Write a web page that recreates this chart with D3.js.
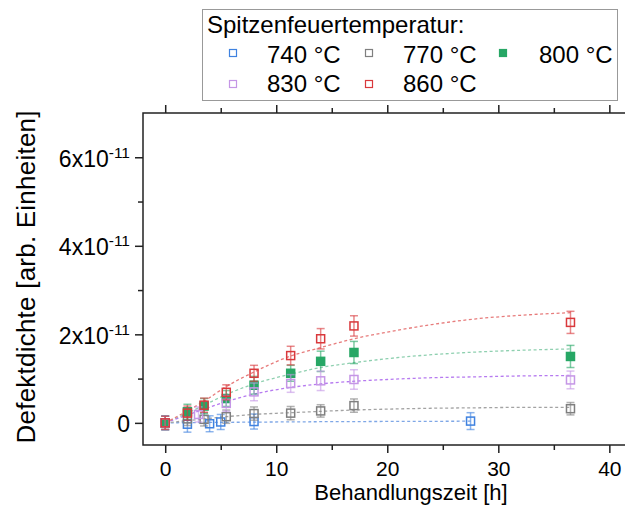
<!DOCTYPE html>
<html>
<head>
<meta charset="utf-8">
<script src="https://cdn.jsdelivr.net/npm/d3@7"></script>
<style>
  html, body { margin: 0; padding: 0; background: #fff; }
  svg { display: block; font-family: "Liberation Sans", Arial, sans-serif; }
</style>
</head>
<body>
<svg id="chart" width="625" height="521"></svg>
<script>
// Peak firing temperatures (legend order)
const temps = ["740 °C", "770 °C", "800 °C", "830 °C", "860 °C"];
const colors = ["#3f82e0", "#7f7f7f", "#27a765", "#c596e6", "#d9393c"];
const fitColors = ["#7fa7e6", "#a3a3a3", "#8fd0b0", "#b67af0", "#e77c7c"];
const filled = [false, false, true, false, false];

// Measured defect density vs. treatment time [h]
const t740 = [0, 2, 4, 5, 8, 27.5];
const v740 = [0, -0.03e-11, -0.02e-11, 0.02e-11, 0.03e-11, 0.04e-11];
const e740 = [0.16e-11, 0.18e-11, 0.18e-11, 0.17e-11, 0.17e-11, 0.19e-11];

const t770 = [0, 2, 3.5, 5.5, 8, 11.3, 14, 17, 36.5];
const v770 = [0, 0.09e-11, 0.08e-11, 0.14e-11, 0.21e-11, 0.22e-11, 0.27e-11, 0.39e-11, 0.32e-11];
const e770 = [0.15e-11, 0.15e-11, 0.15e-11, 0.15e-11, 0.15e-11, 0.15e-11, 0.14e-11, 0.15e-11, 0.14e-11];

const t800 = [0, 2, 3.5, 5.5, 8, 11.3, 14, 17, 36.5];
const v800 = [0, 0.25e-11, 0.38e-11, 0.55e-11, 0.85e-11, 1.12e-11, 1.39e-11, 1.59e-11, 1.50e-11];
const e800 = [0.15e-11, 0.17e-11, 0.17e-11, 0.18e-11, 0.2e-11, 0.18e-11, 0.23e-11, 0.25e-11, 0.25e-11];

const t830 = [0, 3, 5.5, 8, 11.3, 14, 17, 36.5];
const v830 = [0, 0.19e-11, 0.44e-11, 0.70e-11, 0.89e-11, 0.95e-11, 0.98e-11, 0.97e-11];
const e830 = [0.15e-11, 0.17e-11, 0.18e-11, 0.2e-11, 0.2e-11, 0.22e-11, 0.22e-11, 0.2e-11];

const t860 = [0, 2, 3.5, 5.5, 8, 11.3, 14, 17, 36.5];
const v860 = [0, 0.22e-11, 0.40e-11, 0.69e-11, 1.12e-11, 1.52e-11, 1.90e-11, 2.19e-11, 2.27e-11];
const e860 = [0.15e-11, 0.16e-11, 0.16e-11, 0.17e-11, 0.18e-11, 0.21e-11, 0.23e-11, 0.23e-11, 0.25e-11];

// Fitted saturation curves, sampled at these times
const fitT = [0, 2, 3.5, 5.5, 8, 11.3, 14, 17, 20, 24, 28, 32, 36.5];
const fit740T = [0, 2, 3.5, 5.5, 8, 11.3, 14, 17, 20, 24, 27.5];
const fit740 = [0, 0.005e-11, 0.008e-11, 0.012e-11, 0.017e-11, 0.022e-11, 0.026e-11, 0.029e-11, 0.032e-11, 0.035e-11, 0.038e-11];
const fit770 = [0, 0.05e-11, 0.09e-11, 0.14e-11, 0.19e-11, 0.23e-11, 0.26e-11, 0.29e-11, 0.31e-11, 0.33e-11, 0.34e-11, 0.35e-11, 0.35e-11];
const fit800 = [0, 0.22e-11, 0.40e-11, 0.64e-11, 0.88e-11, 1.10e-11, 1.25e-11, 1.36e-11, 1.45e-11, 1.54e-11, 1.60e-11, 1.64e-11, 1.67e-11];
const fit830 = [0, 0.18e-11, 0.31e-11, 0.48e-11, 0.65e-11, 0.80e-11, 0.88e-11, 0.94e-11, 0.98e-11, 1.02e-11, 1.04e-11, 1.06e-11, 1.07e-11];
const fit860 = [0, 0.27e-11, 0.49e-11, 0.82e-11, 1.15e-11, 1.51e-11, 1.70e-11, 1.90e-11, 2.05e-11, 2.22e-11, 2.35e-11, 2.43e-11, 2.49e-11];

// Axis ticks
const xTicks = [0, 10, 20, 30, 40];
const xMinor = [5, 15, 25, 35];
const yTicks = [0, 2e-11, 4e-11, 6e-11];
const yMinor = [1e-11, 3e-11, 5e-11];

const series = [
  { t: t740, v: v740, e: e740, ft: fit740T, fv: fit740 },
  { t: t770, v: v770, e: e770, ft: fitT, fv: fit770 },
  { t: t800, v: v800, e: e800, ft: fitT, fv: fit800 },
  { t: t830, v: v830, e: e830, ft: fitT, fv: fit830 },
  { t: t860, v: v860, e: e860, ft: fitT, fv: fit860 }
];

const svg = d3.select("#chart");
const L = 143, T = 113, R = 626, B = 445;
const x = d3.scaleLinear().domain([-2, 41.5]).range([L, R]);
const y = d3.scaleLinear().domain([-0.5e-11, 7e-11]).range([B, T]);

const axisColor = "#222";
const major = 8, minor = 5;

// Frame
svg.append("rect").attr("x", L).attr("y", T).attr("width", R - L).attr("height", B - T)
  .attr("fill", "none").attr("stroke", axisColor).attr("stroke-width", 1.5);

// Axes (ticks outward, labels on bottom/left)
const xb = svg.append("g").attr("transform", `translate(0,${B})`)
  .call(d3.axisBottom(x).tickValues(xTicks).tickSize(major).tickPadding(8).tickFormat(d3.format("d")));
svg.append("g").attr("transform", `translate(0,${B})`)
  .call(d3.axisBottom(x).tickValues(xMinor).tickSize(minor).tickFormat(""));
svg.append("g").attr("transform", `translate(0,${T})`)
  .call(d3.axisTop(x).tickValues(xTicks).tickSize(major).tickFormat(""));
svg.append("g").attr("transform", `translate(0,${T})`)
  .call(d3.axisTop(x).tickValues(xMinor).tickSize(minor).tickFormat(""));

const yl = svg.append("g").attr("transform", `translate(${L},0)`)
  .call(d3.axisLeft(y).tickValues(yTicks).tickSize(major).tickFormat(""));
svg.append("g").attr("transform", `translate(${L},0)`)
  .call(d3.axisLeft(y).tickValues(yMinor).tickSize(minor).tickFormat(""));

svg.selectAll(".domain").remove();
svg.selectAll(".tick line").attr("stroke", axisColor).attr("stroke-width", 1.5);
xb.selectAll(".tick text").attr("font-size", 21).attr("fill", "#000")
  .attr("font-family", "Liberation Sans, Arial, sans-serif");

// Y tick labels in scientific notation: "2x10^-11"
yl.selectAll(".tick").each(function (d) {
  const g = d3.select(this);
  const txt = g.append("text").attr("x", -13).attr("dy", "0.38em")
    .attr("text-anchor", "end").attr("fill", "#000").attr("font-size", 23)
    .attr("font-family", "Liberation Sans, Arial, sans-serif");
  if (d === 0) {
    txt.text("0");
  } else {
    const m = Math.round(d / 1e-11);
    txt.append("tspan").text(m + "x10");
    txt.append("tspan").attr("font-size", 15.5).attr("dy", -9).text("-11");
  }
});

// Axis titles
svg.append("text").attr("x", 411).attr("y", 500).attr("text-anchor", "middle")
  .attr("font-size", 22).text("Behandlungszeit [h]");
svg.append("text").attr("transform", "translate(35,277) rotate(-90)")
  .attr("text-anchor", "middle").attr("font-size", 26)
  .attr("textLength", 333).attr("lengthAdjust", "spacing")
  .text("Defektdichte [arb. Einheiten]");

// Fit curves
const line = d3.line().x(d => x(d[0])).y(d => y(d[1])).curve(d3.curveMonotoneX);
series.forEach((s, i) => {
  svg.append("path").datum(s.ft.map((t, k) => [t, s.fv[k]]))
    .attr("d", line).attr("fill", "none").attr("stroke", fitColors[i])
    .attr("stroke-width", 1.3).attr("stroke-dasharray", "3,2.5");
});

// Error bars and markers
const ms = 8, cap = 4;
series.forEach((s, i) => {
  const g = svg.append("g");
  const pts = s.t.map((t, k) => ({ t, v: s.v[k], e: s.e[k] }));
  const eb = g.selectAll(".eb").data(pts).enter().append("g")
    .attr("stroke", colors[i]).attr("stroke-opacity", 0.6).attr("stroke-width", 1.5);
  eb.append("line").attr("x1", d => x(d.t)).attr("x2", d => x(d.t))
    .attr("y1", d => y(d.v - d.e)).attr("y2", d => y(d.v + d.e));
  eb.append("line").attr("x1", d => x(d.t) - cap).attr("x2", d => x(d.t) + cap)
    .attr("y1", d => y(d.v + d.e)).attr("y2", d => y(d.v + d.e));
  eb.append("line").attr("x1", d => x(d.t) - cap).attr("x2", d => x(d.t) + cap)
    .attr("y1", d => y(d.v - d.e)).attr("y2", d => y(d.v - d.e));
  g.selectAll(".m").data(pts).enter().append("rect")
    .attr("x", d => x(d.t) - ms / 2).attr("y", d => y(d.v) - ms / 2)
    .attr("width", ms).attr("height", ms)
    .attr("fill", filled[i] ? colors[i] : "none")
    .attr("stroke", colors[i]).attr("stroke-width", 1.5);
});

// Legend
const lg = svg.append("g");
lg.append("rect").attr("x", 202.5).attr("y", 9.5).attr("width", 415).attr("height", 91)
  .attr("fill", "#fff").attr("stroke", "#999").attr("stroke-width", 1);
lg.append("text").attr("x", 207).attr("y", 33).attr("font-size", 24).text("Spitzenfeuertemperatur:");
const legPos = [
  { mx: 233, tx: 267, my: 53, ty: 63 },
  { mx: 369, tx: 403, my: 53, ty: 63 },
  { mx: 503, tx: 539, my: 53, ty: 63 },
  { mx: 233, tx: 267, my: 84, ty: 92 },
  { mx: 369, tx: 403, my: 84, ty: 92 }
];
temps.forEach((name, i) => {
  const p = legPos[i];
  lg.append("rect").attr("x", p.mx - 3.5).attr("y", p.my - 3.5).attr("width", 7).attr("height", 7)
    .attr("fill", filled[i] ? colors[i] : "none").attr("stroke", colors[i]).attr("stroke-width", 1.2);
  lg.append("text").attr("x", p.tx).attr("y", p.ty).attr("font-size", 24).text(name);
});
</script>
</body>
</html>
